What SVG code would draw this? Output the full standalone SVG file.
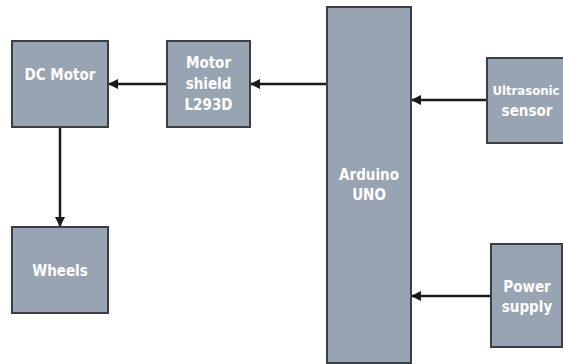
<svg xmlns="http://www.w3.org/2000/svg" width="563" height="364" viewBox="0 0 563 364">
<style>
.box{fill:#98a4b2;stroke:#3b4047;stroke-width:2}
.lbl{fill:#ffffff;font-family:"Liberation Sans Narrow","DejaVu Sans Condensed","Liberation Sans",sans-serif;font-weight:bold;font-size:15px;text-anchor:middle}
.conn{stroke:#1a1a1a;stroke-width:2.5;fill:none;marker-end:url(#ah)}
</style>
<defs>
<marker id="ah" viewBox="0 0 10 10" refX="9" refY="5" markerWidth="4" markerHeight="4" orient="auto" markerUnits="strokeWidth">
<path d="M0,0 L10,5 L0,10 z" fill="#1a1a1a"/>
</marker>
</defs>
<rect width="563" height="364" fill="#ffffff"/>
<g id="connectors">
<line class="conn" x1="167" y1="84" x2="109" y2="84"/>
<line class="conn" x1="327" y1="84" x2="251" y2="84"/>
<line class="conn" x1="60" y1="128" x2="60" y2="226"/>
<line class="conn" x1="487" y1="100" x2="412" y2="100"/>
<line class="conn" x1="491" y1="296" x2="412" y2="296"/>
</g>
<g id="dc-motor">
<rect class="box" x="12" y="41" width="96" height="86"/>
<text class="lbl" x="60" y="80">DC Motor</text>
</g>
<g id="motor-shield">
<rect class="box" x="167" y="41" width="83" height="86"/>
<text class="lbl" x="208.5" y="68">Motor</text>
<text class="lbl" x="208.5" y="89">shield</text>
<text class="lbl" x="208.5" y="110">L293D</text>
</g>
<g id="wheels">
<rect class="box" x="12" y="227" width="96" height="86"/>
<text class="lbl" x="60" y="276">Wheels</text>
</g>
<g id="arduino">
<rect class="box" x="327" y="7" width="84" height="356"/>
<text class="lbl" x="369" y="180">Arduino</text>
<text class="lbl" x="369" y="200">UNO</text>
</g>
<g id="ultrasonic">
<rect class="box" x="487" y="58" width="85" height="85"/>
<text class="lbl" x="526" y="95" style="font-size:13px">Ultrasonic</text>
<text class="lbl" x="527" y="116">sensor</text>
</g>
<g id="power">
<rect class="box" x="491" y="244" width="71" height="103"/>
<text class="lbl" x="527" y="292">Power</text>
<text class="lbl" x="527" y="312">supply</text>
</g>
</svg>
